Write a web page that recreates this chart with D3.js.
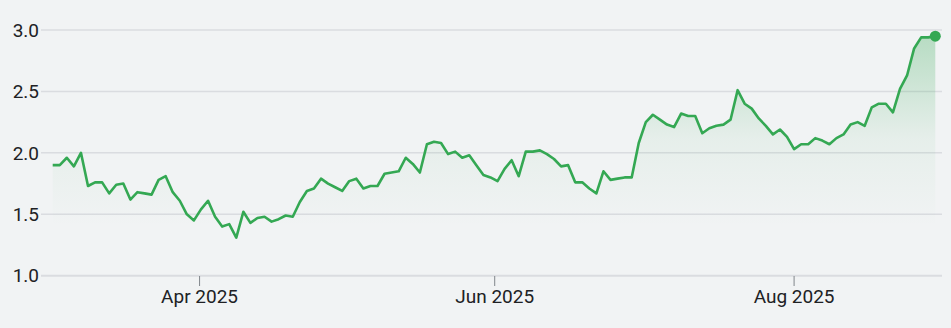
<!DOCTYPE html>
<html>
<head>
<meta charset="utf-8">
<script src="https://cdn.jsdelivr.net/npm/d3@7"></script>
<style>
  html, body { margin: 0; padding: 0; background: #f1f3f4; }
  svg { display: block; }
  text { font-family: Roboto, "Noto Sans", sans-serif; }
</style>
</head>
<body>
<svg id="chart" width="951" height="328"></svg>
<script>
// Daily closing values (trading days, early Mar 2025 – end Aug 2025)
const values = [
  1.90, 1.90, 1.96, 1.89, 2.00, 1.73, 1.76, 1.76, 1.67, 1.74,
  1.75, 1.62, 1.68, 1.67, 1.66, 1.78, 1.81, 1.68, 1.61, 1.50,
  1.45, 1.54, 1.61, 1.48, 1.40, 1.42, 1.31, 1.52, 1.43, 1.47,
  1.48, 1.44, 1.46, 1.49, 1.48, 1.60, 1.69, 1.71, 1.79, 1.75,
  1.72, 1.69, 1.77, 1.79, 1.71, 1.73, 1.73, 1.83, 1.84, 1.85,
  1.96, 1.91, 1.84, 2.07, 2.09, 2.08, 1.99, 2.01, 1.96, 1.98,
  1.90, 1.82, 1.80, 1.77, 1.87, 1.94, 1.81, 2.01, 2.01, 2.02,
  1.99, 1.95, 1.89, 1.90, 1.76, 1.76, 1.71, 1.67, 1.85, 1.78,
  1.79, 1.80, 1.80, 2.08, 2.25, 2.31, 2.27, 2.23, 2.21, 2.32,
  2.30, 2.30, 2.16, 2.20, 2.22, 2.23, 2.27, 2.51, 2.40, 2.36,
  2.28, 2.22, 2.15, 2.19, 2.13, 2.03, 2.07, 2.07, 2.12, 2.10,
  2.07, 2.12, 2.15, 2.23, 2.25, 2.22, 2.37, 2.40, 2.40, 2.33,
  2.52, 2.63, 2.85, 2.94, 2.94, 2.95
];
// x-axis month ticks (position in trading-day index) and labels
const xTickIndex = [20.8, 62.6, 105];
const xTickLabels = ["Apr 2025", "Jun 2025", "Aug 2025"];
// y-axis ticks
const yTicks = [1.0, 1.5, 2.0, 2.5, 3.0];

const svg = d3.select("#chart");
const W = 951, H = 328;
const gridLeft = 41, gridRight = 942;

const x = d3.scaleLinear().domain([0, values.length - 1]).range([52.7, 935.3]);
const y = d3.scaleLinear().domain([1, 3]).range([275.7, 30]);

const green = "#34a853";

// gradient
const defs = svg.append("defs");
const grad = defs.append("linearGradient")
  .attr("id", "fillGrad")
  .attr("gradientUnits", "userSpaceOnUse")
  .attr("x1", 0).attr("x2", 0)
  .attr("y1", y(3)).attr("y2", y(1.4));
grad.append("stop").attr("offset", "0%").attr("stop-color", green).attr("stop-opacity", 0.32);
grad.append("stop").attr("offset", "55%").attr("stop-color", green).attr("stop-opacity", 0.06);
grad.append("stop").attr("offset", "100%").attr("stop-color", green).attr("stop-opacity", 0);

// gridlines
svg.append("g")
  .selectAll("line")
  .data(yTicks)
  .join("line")
  .attr("x1", gridLeft).attr("x2", gridRight)
  .attr("y1", d => y(d)).attr("y2", d => y(d))
  .attr("stroke", "#dadce0")
  .attr("stroke-width", d => d === 1 ? 2 : 1.5);

// y labels
svg.append("g")
  .selectAll("text")
  .data(yTicks)
  .join("text")
  .attr("x", 39)
  .attr("y", d => y(d))
  .attr("dy", "0.35em")
  .attr("text-anchor", "end")
  .attr("font-size", 19)
  .attr("fill", "#202124")
  .text(d => d3.format(".1f")(d));

// x axis ticks & labels
const xa = svg.append("g");
xa.selectAll("line")
  .data(xTickIndex)
  .join("line")
  .attr("x1", d => x(d)).attr("x2", d => x(d))
  .attr("y1", 276).attr("y2", 286)
  .attr("stroke", "#80868b")
  .attr("stroke-width", 1);
xa.selectAll("text")
  .data(xTickIndex)
  .join("text")
  .attr("x", d => x(d))
  .attr("y", 303)
  .attr("text-anchor", "middle")
  .attr("font-size", 19)
  .attr("fill", "#202124")
  .text((d, i) => xTickLabels[i]);

// area
const area = d3.area()
  .x((d, i) => x(i))
  .y0(y(1))
  .y1(d => y(d));
svg.append("path")
  .datum(values)
  .attr("d", area)
  .attr("fill", "url(#fillGrad)");

// line
const line = d3.line()
  .x((d, i) => x(i))
  .y(d => y(d));
svg.append("path")
  .datum(values)
  .attr("d", line)
  .attr("fill", "none")
  .attr("stroke", green)
  .attr("stroke-width", 2.6)
  .attr("stroke-linejoin", "round");

// end dot
const last = values.length - 1;
svg.append("circle")
  .attr("cx", x(last))
  .attr("cy", y(values[last]))
  .attr("r", 5.5)
  .attr("fill", green);
</script>
</body>
</html>
